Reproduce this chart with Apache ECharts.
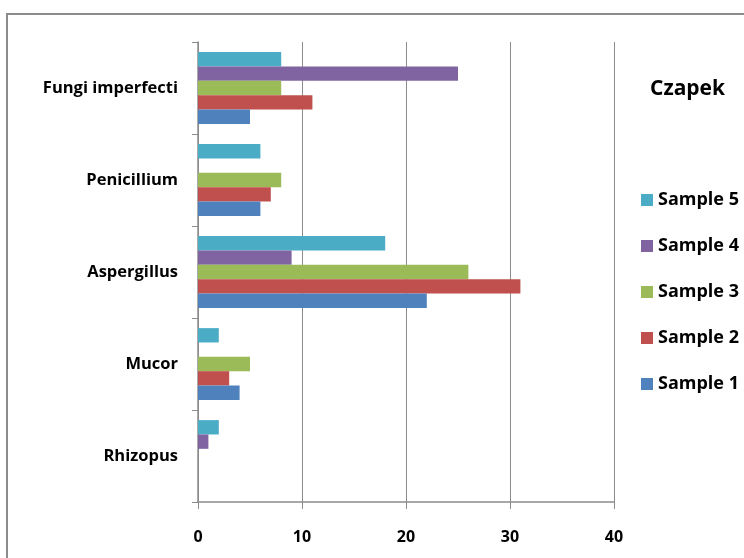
<!DOCTYPE html>
<html>
<head>
<meta charset="utf-8">
<script src="https://cdn.jsdelivr.net/npm/echarts@6/dist/echarts.min.js"></script>
<style>
  html, body { margin: 0; padding: 0; background: #fff; }
  #chart { width: 744px; height: 558px; }
</style>
</head>
<body>
<div id="chart"></div>
<script>
// Genera counted on Czapek medium, bottom to top on the category axis
const genera = ['Rhizopus', 'Mucor', 'Aspergillus', 'Penicillium', 'Fungi imperfecti'];

const sample1 = [0, 4, 22, 6, 5];
const sample2 = [0, 3, 31, 7, 11];
const sample3 = [0, 5, 26, 8, 8];
const sample4 = [1, 0, 9, 0, 25];
const sample5 = [2, 2, 18, 6, 8];

const seriesNames = ['Sample 1', 'Sample 2', 'Sample 3', 'Sample 4', 'Sample 5'];
const seriesValues = [sample1, sample2, sample3, sample4, sample5];
const seriesColors = ['#4F81BD', '#C0504D', '#9BBB59', '#8064A2', '#4BACC6'];

const xTicks = [0, 10, 20, 30, 40];

const FONT = '"Open Sans", "Noto Sans", sans-serif';

const chart = echarts.init(document.getElementById('chart'), null, { renderer: 'canvas' });

// Series are listed Sample 5 first so Sample 1 sits at the bottom of each band
const order = [4, 3, 2, 1, 0];

chart.setOption({
  animation: false,
  backgroundColor: '#ffffff',
  title: {
    text: 'Czapek',
    left: 645,
    top: 74,
    textStyle: { fontFamily: FONT, fontSize: 21, fontWeight: 'bold', color: '#000' }
  },
  legend: {
    orient: 'vertical',
    left: 636,
    top: 186,
    itemWidth: 12,
    itemHeight: 12,
    itemGap: 28,
    icon: 'rect',
    data: seriesNames.slice().reverse(),
    textStyle: { fontFamily: FONT, fontSize: 18, fontWeight: 'bold', color: '#000' }
  },
  graphic: [{
    type: 'rect',
    shape: { x: 7, y: 14, width: 800, height: 600 },
    style: { fill: 'none', stroke: '#8c8c8c', lineWidth: 2 },
    silent: true
  }],
  grid: { left: 198, right: 130, top: 42, bottom: 56, containLabel: false },
  xAxis: {
    type: 'value',
    min: xTicks[0],
    max: xTicks[xTicks.length - 1],
    interval: 10,
    axisLine: { show: true, lineStyle: { color: '#8c8c8c', width: 1.5 } },
    axisTick: { show: true, length: 7, lineStyle: { color: '#8c8c8c', width: 1 } },
    splitLine: { show: true, lineStyle: { color: '#8c8c8c', width: 1 } },
    axisLabel: { margin: 27, fontFamily: FONT, fontSize: 16, fontWeight: 'bold', color: '#000' }
  },
  yAxis: {
    type: 'category',
    data: genera,
    axisLine: { show: true, lineStyle: { color: '#8c8c8c', width: 1.5 } },
    axisTick: { show: true, length: 6, inside: false, lineStyle: { color: '#8c8c8c' } },
    axisLabel: { margin: 20, fontFamily: FONT, fontSize: 16.5, fontWeight: 'bold', color: '#000' }
  },
  series: order.map(i => ({
    name: seriesNames[i],
    type: 'bar',
    data: seriesValues[i],
    barGap: '0%',
    barCategoryGap: '22%',
    itemStyle: { color: seriesColors[i] }
  }))
});
</script>
</body>
</html>
